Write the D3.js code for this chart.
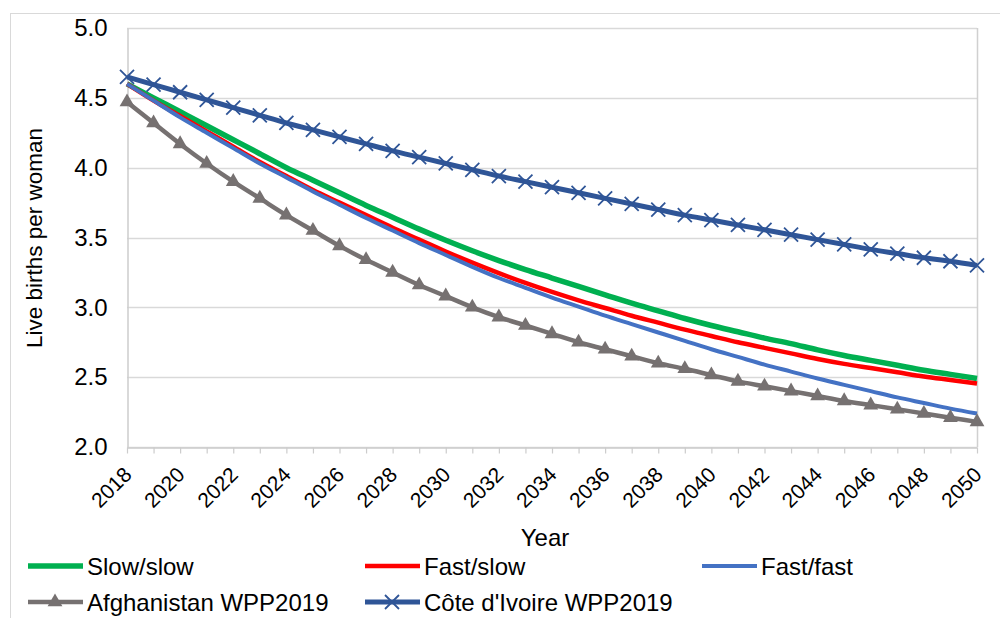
<!DOCTYPE html>
<html>
<head>
<meta charset="utf-8">
<script src="https://cdn.jsdelivr.net/npm/d3@7"></script>
<style>
  body { margin: 0; background: #fff; }
  svg { font-family: "Liberation Sans", Arial, sans-serif; }
</style>
</head>
<body>
<div id="grafico"></div>
<script>
// dados
const anos = d3.range(2018, 2051);
const slowSlow = [4.60, 4.50, 4.40, 4.30, 4.20, 4.10, 4.00, 3.91, 3.82, 3.73, 3.645, 3.56, 3.48, 3.405, 3.335, 3.27, 3.21,
  3.15, 3.09, 3.03, 2.975, 2.92, 2.87, 2.825, 2.78, 2.74, 2.695, 2.655, 2.62, 2.585, 2.55, 2.52, 2.49];
const fastSlow = [4.60, 4.48, 4.37, 4.26, 4.15, 4.04, 3.94, 3.84, 3.75, 3.66, 3.57, 3.485, 3.40, 3.32, 3.245, 3.175, 3.11,
  3.05, 2.995, 2.94, 2.89, 2.84, 2.795, 2.75, 2.71, 2.67, 2.63, 2.595, 2.565, 2.535, 2.505, 2.48, 2.455];
const fastFast = [4.60, 4.48, 4.36, 4.25, 4.14, 4.03, 3.93, 3.83, 3.735, 3.64, 3.55, 3.46, 3.375, 3.29, 3.21, 3.14, 3.07,
  3.005, 2.94, 2.88, 2.82, 2.76, 2.70, 2.645, 2.59, 2.54, 2.49, 2.445, 2.40, 2.355, 2.315, 2.275, 2.24];
const afeganistao = [4.47, 4.32, 4.17, 4.03, 3.90, 3.78, 3.66, 3.55, 3.44, 3.34, 3.25, 3.16, 3.08, 3.00, 2.93, 2.87, 2.81,
  2.75, 2.70, 2.65, 2.60, 2.56, 2.515, 2.47, 2.435, 2.40, 2.365, 2.33, 2.30, 2.27, 2.24, 2.21, 2.18];
const costaMarfim = [4.65, 4.595, 4.54, 4.485, 4.43, 4.375, 4.32, 4.27, 4.22, 4.17, 4.12, 4.075, 4.03, 3.985, 3.94, 3.90, 3.86,
  3.82, 3.78, 3.74, 3.70, 3.66, 3.625, 3.59, 3.555, 3.52, 3.485, 3.45, 3.415, 3.385, 3.355, 3.33, 3.30];
const yTicks = [2.0, 2.5, 3.0, 3.5, 4.0, 4.5, 5.0];
const xTicks = d3.range(2018, 2051, 2);

const series = [
  { nome: "Slow/slow", valores: slowSlow, cor: "#00b050", largura: 5.5 },
  { nome: "Fast/slow", valores: fastSlow, cor: "#ff0000", largura: 4.5 },
  { nome: "Fast/fast", valores: fastFast, cor: "#4472c4", largura: 4 },
  { nome: "Afghanistan WPP2019", valores: afeganistao, cor: "#767171", largura: 4.5, marcador: "tri" },
  { nome: "Côte d'Ivoire WPP2019", valores: costaMarfim, cor: "#2f5597", largura: 5, marcador: "x" }
];

const width = 1000, height = 618;
const margem = { left: 127, right: 977, top: 28, bottom: 447 };

const svg = d3.select("#grafico").append("svg")
  .attr("width", width)
  .attr("height", height);

// borda externa
svg.append("rect")
  .attr("x", 10.5).attr("y", 13.5)
  .attr("width", 1000).attr("height", 620)
  .attr("fill", "none").attr("stroke", "#d9d9d9");

const xScale = d3.scaleLinear().domain([2018, 2050]).range([margem.left, margem.right]);
const yScale = d3.scaleLinear().domain([2, 5]).range([margem.bottom, margem.top]);

// linhas de grade
svg.append("g")
  .selectAll("line")
  .data(yTicks)
  .enter().append("line")
  .attr("x1", margem.left).attr("x2", margem.right)
  .attr("y1", d => Math.round(yScale(d)) + 0.5)
  .attr("y2", d => Math.round(yScale(d)) + 0.5)
  .attr("stroke", "#d9d9d9").attr("stroke-width", 1.5);

// borda direita da área
svg.append("line")
  .attr("x1", margem.right + 0.5).attr("x2", margem.right + 0.5)
  .attr("y1", margem.top).attr("y2", margem.bottom)
  .attr("stroke", "#d0d0d0").attr("stroke-width", 1.5);

// eixo y
const eixoY = svg.append("g")
  .attr("transform", `translate(${margem.left + 0.5},0)`)
  .call(d3.axisLeft(yScale).tickValues(yTicks).tickFormat(d3.format(".1f")).tickSize(0).tickPadding(20));
eixoY.select(".domain").attr("stroke", "#cccccc").attr("stroke-width", 1.5);
eixoY.selectAll("text").attr("font-size", 24).attr("fill", "#000").attr("font-family", "Liberation Sans, Arial, sans-serif");

// eixo x
const eixoX = svg.append("g")
  .attr("transform", `translate(0,${Math.round(margem.bottom) + 0.5})`)
  .call(d3.axisBottom(xScale).tickValues(anos).tickFormat("").tickSize(6).tickSizeOuter(0));
eixoX.select(".domain").attr("stroke", "#cccccc").attr("stroke-width", 1.5);
eixoX.selectAll(".tick line").attr("stroke", "#cccccc").attr("stroke-width", 1.2);

svg.append("g")
  .selectAll("text")
  .data(xTicks)
  .enter().append("text")
  .attr("transform", d => `translate(${xScale(d) + 6},${margem.bottom + 29}) rotate(-45)`)
  .attr("text-anchor", "end")
  .attr("font-size", 21)
  .text(d => d);

// títulos dos eixos
svg.append("text")
  .attr("x", 545).attr("y", 546)
  .attr("text-anchor", "middle")
  .attr("font-size", 24)
  .text("Year");

svg.append("text")
  .attr("transform", `translate(42,238) rotate(-90)`)
  .attr("text-anchor", "middle")
  .attr("font-size", 22.5)
  .text("Live births per woman");

// linhas
const linha = d3.line()
  .x((d, i) => xScale(anos[i]))
  .y(d => yScale(d))
  .curve(d3.curveMonotoneX);

const tri = d3.symbol().type(d3.symbolTriangle).size(95);

series.forEach(s => {
  svg.append("path")
    .datum(s.valores)
    .attr("d", linha)
    .attr("fill", "none")
    .attr("stroke", s.cor)
    .attr("stroke-width", s.largura)
    .attr("stroke-linejoin", "round");

  if (s.marcador === "tri") {
    svg.append("g").selectAll("path")
      .data(s.valores)
      .enter().append("path")
      .attr("d", tri)
      .attr("transform", (d, i) => `translate(${xScale(anos[i])},${yScale(d)})`)
      .attr("fill", s.cor);
  }
  if (s.marcador === "x") {
    svg.append("g").selectAll("path")
      .data(s.valores)
      .enter().append("path")
      .attr("d", "M-7,-7L7,7M-7,7L7,-7")
      .attr("transform", (d, i) => `translate(${xScale(anos[i])},${yScale(d)})`)
      .attr("stroke", s.cor)
      .attr("stroke-width", 1.8)
      .attr("fill", "none");
  }
});

// legenda
const posLegenda = [
  { x: 28, y: 566 }, { x: 365, y: 566 }, { x: 702, y: 566 },
  { x: 28, y: 602 }, { x: 365, y: 602 }
];

series.forEach((s, i) => {
  const p = posLegenda[i];
  const g = svg.append("g").attr("transform", `translate(${p.x},${p.y})`);
  g.append("line")
    .attr("x1", 0).attr("x2", 55)
    .attr("y1", 0).attr("y2", 0)
    .attr("stroke", s.cor)
    .attr("stroke-width", s.largura);
  if (s.marcador === "tri") {
    g.append("path").attr("d", tri).attr("transform", "translate(27,0)").attr("fill", s.cor);
  }
  if (s.marcador === "x") {
    g.append("path").attr("d", "M-7,-7L7,7M-7,7L7,-7")
      .attr("transform", "translate(27,0)")
      .attr("stroke", s.cor).attr("stroke-width", 1.8);
  }
  g.append("text")
    .attr("x", 59).attr("y", 8.5)
    .attr("font-size", 24)
    .text(s.nome);
});
</script>
</body>
</html>
